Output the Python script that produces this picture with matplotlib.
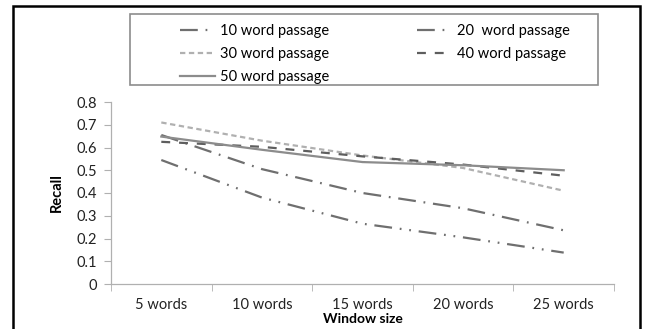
import matplotlib
matplotlib.use('Agg')
import matplotlib.pyplot as plt
from matplotlib.patches import Rectangle

plt.rcParams['font.family'] = ['Lato', 'DejaVu Sans']

# Data
windows = ['5 words', '10 words', '15 words', '20 words', '25 words']
recall_10 = [0.545, 0.38, 0.265, 0.205, 0.138]
recall_20 = [0.655, 0.505, 0.40, 0.333, 0.236]
recall_30 = [0.71, 0.63, 0.565, 0.51, 0.41]
recall_40 = [0.625, 0.603, 0.561, 0.525, 0.476]
recall_50 = [0.648, 0.59, 0.536, 0.522, 0.50]
series_labels = ['10 word passage', '20  word passage', '30 word passage',
                 '40 word passage', '50 word passage']

W, H = 646, 329
fig = plt.figure(figsize=(W / 100, H / 100), dpi=100)
ax = fig.add_axes([111 / W, 1 - 284 / H, 503 / W, 182 / H])

x = range(len(windows))
lw = 1.6
l10, = ax.plot(x, recall_10, color='#6f6f6f', lw=lw, dashes=(8, 3.5, 0.8, 3.5, 0.8, 3.5),
               dash_capstyle='butt')
l20, = ax.plot(x, recall_20, color='#6f6f6f', lw=lw, dashes=(8, 3.5, 0.8, 3.5),
               dash_capstyle='butt')
l30, = ax.plot(x, recall_30, color='#b0b0b0', lw=lw, dashes=(2.4, 1.6))
l40, = ax.plot(x, recall_40, color='#5e5e5e', lw=lw, dashes=(4, 4))
l50, = ax.plot(x, recall_50, color='#8c8c8c', lw=lw)

fs = 10.5
ax.set_xlim(-0.5, len(windows) - 0.5)
ax.set_ylim(0, 0.8)
ax.set_yticks([i / 10 for i in range(9)])
ax.set_yticklabels(['0'] + ['%.1f' % (i / 10) for i in range(1, 9)])
ax.set_xticks(list(x))
ax.set_xticklabels(windows)
ax.set_xticks([i - 0.5 for i in range(len(windows) + 1)], minor=True)
ax.tick_params(axis='x', which='major', length=0, pad=10, labelsize=fs, labelcolor='#222222')
ax.tick_params(axis='x', which='minor', length=5, color='#b0b0b0', direction='out')
ax.tick_params(axis='y', length=5, color='#b0b0b0', labelsize=fs, labelcolor='#222222', pad=5)

for s in ['top', 'right']:
    ax.spines[s].set_visible(False)
for s in ['left', 'bottom']:
    ax.spines[s].set_color('#b0b0b0')
    ax.spines[s].set_linewidth(0.9)

ax.set_ylabel('Recall', fontweight='bold', fontsize=fs, labelpad=9)
ax.set_xlabel('Window size', fontweight='bold', fontsize=10, labelpad=1)

# legend: no frame from matplotlib, box drawn separately
handles = [l10, l20, l30, l40, l50]
order = [0, 2, 4, 1, 3]
leg = fig.legend([handles[i] for i in order], [series_labels[i] for i in order],
                 ncol=2, frameon=False, loc='upper left',
                 bbox_to_anchor=(170 / W, 1 - 14 / H), fontsize=fs,
                 handlelength=2.4, handletextpad=0.35, columnspacing=6.0,
                 labelspacing=0.6, borderpad=0.2)
fig.add_artist(Rectangle((130 / W, 1 - 85 / H), 468 / W, 71 / H,
                         transform=fig.transFigure, fill=False,
                         edgecolor='#8c8c8c', lw=1.2))

# outer black frame of the figure
fig.add_artist(Rectangle((13 / W, -0.1), 627 / W, 1.1 - 6 / H,
                         transform=fig.transFigure, fill=False,
                         edgecolor='black', lw=1.8, clip_on=False))

fig.savefig('out.png', dpi=100)
